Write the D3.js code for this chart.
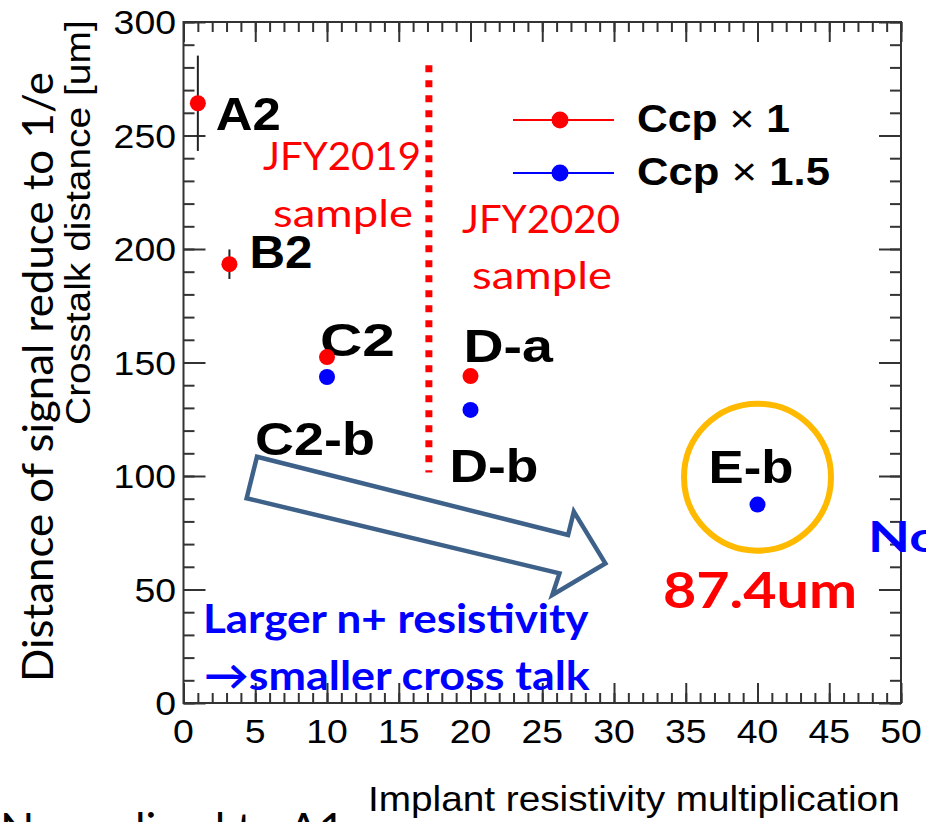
<!DOCTYPE html>
<html>
<head>
<meta charset="utf-8">
<script src="https://cdn.jsdelivr.net/npm/d3@7"></script>
<style>
  html, body { margin: 0; padding: 0; background: #fff; overflow: hidden; }
  svg { display: block; }
</style>
</head>
<body>
<svg id="chart" width="926" height="822"></svg>
<script>
// Crosstalk distance vs. implant resistivity multiplication
const seriesNames = ["Ccp", "Ccp"];
const seriesFactors = ["1", "1.5"];
const seriesColors = ["#ff0000", "#0000ff"];

// Ccp x 1 samples
const samples1 = ["A2", "B2", "C2", "D-a"];
const mult1 = [1, 3.2, 10, 20];
const dist1 = [264.2, 193.3, 152.4, 144.0];
const err1 = [21, 6.5, 0, 0];

// Ccp x 1.5 samples
const samples2 = ["C2-b", "D-b", "E-b"];
const mult2 = [10, 20, 40];
const dist2 = [143.6, 129.1, 87.4];
const err2 = [0, 0, 0];

// Highlighted result
const highlightValue = 87.4;
const highlightUnit = "um";

// Axis ticks
const xTicks = [0, 5, 10, 15, 20, 25, 30, 35, 40, 45, 50];
const yTicks = [0, 50, 100, 150, 200, 250, 300];
const xTitle = "Implant resistivity multiplication";
const yTitle = "Crosstalk distance [um]";
const outerTitle = "Distance of signal reduce to 1/e";

// Sample-year boundary and arrow outline (in data units)
const yearBoundary = { x: 17.1, y0: 101.5, y1: 281 };
const arrowShape = [
  [5.12, 108.5], [26.8, 74.0], [27.2, 84.3], [29.4, 61.5],
  [25.7, 47.6], [26.2, 57.1], [4.40, 90.2]
];

const svg = d3.select("#chart");
const frame = { left: 183.5, right: 901, top: 22, bottom: 703 };

const x = d3.scaleLinear().domain([0, 50]).range([frame.left, frame.right]);
const y = d3.scaleLinear().domain([0, 300]).range([frame.bottom, frame.top]);

const ROOTFONT = "'Liberation Sans', Arial, Helvetica, sans-serif";
const NOTEFONT = "Lato, 'Open Sans', 'Noto Sans', sans-serif";

function addText(g, str, o) {
  const t = g.append("text")
    .attr("font-family", o.family)
    .attr("font-size", o.size)
    .attr("font-weight", o.weight || "normal")
    .attr("fill", o.fill || "#000")
    .attr("text-anchor", o.anchor || "start")
    .text(str);
  let s = o.sx || 1;
  if (o.width) {
    const bw = t.node().getBBox().width;
    s = o.width / bw;
  }
  t.attr("transform", `translate(${o.x},${o.y})` + (o.rotate ? ` rotate(${o.rotate})` : "") + ` scale(${s},1)`);
  return t;
}

// ---- axes: ticks point into the frame on all four sides ----
const axisColor = "#333";
const axes = svg.append("g");
const minorX = d3.range(0, 51, 1);
const minorY = d3.range(0, 301, 10);

function drawAxis(axisGen, tr) {
  const g = axes.append("g").attr("transform", tr).call(axisGen);
  g.select(".domain").remove();
  g.selectAll("line").attr("stroke", axisColor).attr("stroke-width", 2);
  g.selectAll("text").remove();
}
drawAxis(d3.axisBottom(x).tickValues(minorX).tickSize(-10), `translate(0,${frame.bottom})`);
drawAxis(d3.axisBottom(x).tickValues(xTicks).tickSize(-20), `translate(0,${frame.bottom})`);
drawAxis(d3.axisTop(x).tickValues(minorX).tickSize(-10), `translate(0,${frame.top})`);
drawAxis(d3.axisTop(x).tickValues(xTicks).tickSize(-20), `translate(0,${frame.top})`);
drawAxis(d3.axisLeft(y).tickValues(minorY).tickSize(-11), `translate(${frame.left},0)`);
drawAxis(d3.axisLeft(y).tickValues(yTicks).tickSize(-22), `translate(${frame.left},0)`);
drawAxis(d3.axisRight(y).tickValues(minorY).tickSize(-11), `translate(${frame.right},0)`);
drawAxis(d3.axisRight(y).tickValues(yTicks).tickSize(-22), `translate(${frame.right},0)`);

axes.append("rect")
  .attr("x", frame.left).attr("y", frame.top)
  .attr("width", frame.right - frame.left).attr("height", frame.bottom - frame.top)
  .attr("fill", "none").attr("stroke", axisColor).attr("stroke-width", 2);

// tick labels
const labels = svg.append("g");
xTicks.forEach(v => addText(labels, String(v), {
  x: x(v), y: 743, size: 34, family: ROOTFONT, anchor: "middle", sx: 1.1
}));
yTicks.forEach(v => addText(labels, String(v), {
  x: 176, y: y(v) + 12, size: 34, family: ROOTFONT, anchor: "end", sx: 1.1
}));

// axis titles
addText(labels, xTitle, { x: 368, y: 811, size: 35, family: ROOTFONT, width: 532 });
addText(labels, yTitle, { x: 90, y: 425, size: 35, family: ROOTFONT, width: 405, rotate: -90 });
addText(labels, outerTitle, { x: 53, y: 682, size: 43, family: NOTEFONT, width: 610, rotate: -90 });

// cut-off side notes
addText(labels, "Normalized to A1", { x: 0, y: 845, size: 44, family: NOTEFONT, width: 345 });
addText(labels, "Not", { x: 868, y: 552, size: 42, family: NOTEFONT, weight: "bold", fill: "#0000ff", sx: 1.3 });

// ---- annotations ----
const notes = svg.append("g");

// sample-year boundary
notes.append("line")
  .attr("x1", x(yearBoundary.x)).attr("x2", x(yearBoundary.x))
  .attr("y1", y(yearBoundary.y1)).attr("y2", y(yearBoundary.y0))
  .attr("stroke", "#ff0000").attr("stroke-width", 7)
  .attr("stroke-dasharray", "7 8");

addText(notes, "JFY2019", { x: 263, y: 170, size: 39, family: NOTEFONT, fill: "#ff0000", width: 158 });
addText(notes, "sample", { x: 273, y: 227, size: 39, family: NOTEFONT, fill: "#ff0000", width: 140 });
addText(notes, "JFY2020", { x: 462, y: 233, size: 39, family: NOTEFONT, fill: "#ff0000", width: 158 });
addText(notes, "sample", { x: 472, y: 289, size: 39, family: NOTEFONT, fill: "#ff0000", width: 140 });

// trend arrow
notes.append("polygon")
  .attr("points", arrowShape.map(p => `${x(p[0])},${y(p[1])}`).join(" "))
  .attr("fill", "#fff").attr("stroke", "#3e6189").attr("stroke-width", 4.5)
  .attr("stroke-linejoin", "miter");

addText(notes, "Larger n+ resistivity", { x: 203, y: 633, size: 41, family: NOTEFONT, weight: "bold", fill: "#0000ff", width: 386 });
addText(notes, "\u2192smaller cross talk", { x: 204, y: 690, size: 41, family: NOTEFONT, weight: "bold", fill: "#0000ff", width: 386 });

// highlight ring around the best sample
const best = mult2.length - 1;
notes.append("circle")
  .attr("cx", x(mult2[best])).attr("cy", y(99.5)).attr("r", 73.5)
  .attr("fill", "none").attr("stroke", "#ffba00").attr("stroke-width", 6);

addText(notes, `${highlightValue}${highlightUnit}`, { x: 663, y: 608, size: 50, family: NOTEFONT, weight: "bold", fill: "#ff0000", width: 194 });

// sample labels, offset from each point
const labelOffsets1 = [[18, 27, 65], [20, 4, 63], [-7, -1, 75], [-7, -14, 90]];
const labelOffsets2 = [[-72, 78, 120], [-21, 72, 89], [-49, -22, 85]];
samples1.forEach((s, i) => addText(notes, s, {
  x: x(mult1[i]) + labelOffsets1[i][0], y: y(dist1[i]) + labelOffsets1[i][1],
  size: 46, family: ROOTFONT, weight: "bold", width: labelOffsets1[i][2]
}));
samples2.forEach((s, i) => addText(notes, s, {
  x: x(mult2[i]) + labelOffsets2[i][0], y: y(dist2[i]) + labelOffsets2[i][1],
  size: 46, family: ROOTFONT, weight: "bold", width: labelOffsets2[i][2]
}));

// ---- data points with error bars ----
const pts = svg.append("g");
function drawSeries(xs, ys, es, color) {
  xs.forEach((xv, i) => {
    if (es[i] > 0) {
      pts.append("line")
        .attr("x1", x(xv)).attr("x2", x(xv))
        .attr("y1", y(ys[i] - es[i])).attr("y2", y(ys[i] + es[i]))
        .attr("stroke", "#222").attr("stroke-width", 2);
    }
    pts.append("circle")
      .attr("cx", x(xv)).attr("cy", y(ys[i])).attr("r", 8)
      .attr("fill", color);
  });
}
drawSeries(mult1, dist1, err1, seriesColors[0]);
drawSeries(mult2, dist2, err2, seriesColors[1]);

// ---- legend ----
const legend = svg.append("g");
const legendRows = [120, 173];
seriesNames.forEach((name, i) => {
  const ry = legendRows[i];
  legend.append("line")
    .attr("x1", 513).attr("x2", 614).attr("y1", ry).attr("y2", ry)
    .attr("stroke", seriesColors[i]).attr("stroke-width", 2);
  legend.append("circle").attr("cx", 560).attr("cy", ry).attr("r", 8.5).attr("fill", seriesColors[i]);
  const t = legend.append("text")
    .attr("font-family", ROOTFONT).attr("font-size", 38).attr("font-weight", "bold");
  t.append("tspan").text(name + " ");
  t.append("tspan").attr("font-weight", "normal").text("\u00d7");
  t.append("tspan").text(" " + seriesFactors[i]);
  const bw = t.node().getBBox().width;
  const target = i === 0 ? 153 : 193;
  t.attr("transform", `translate(637,${ry + 12}) scale(${target / bw},1)`);
});
</script>
</body>
</html>
